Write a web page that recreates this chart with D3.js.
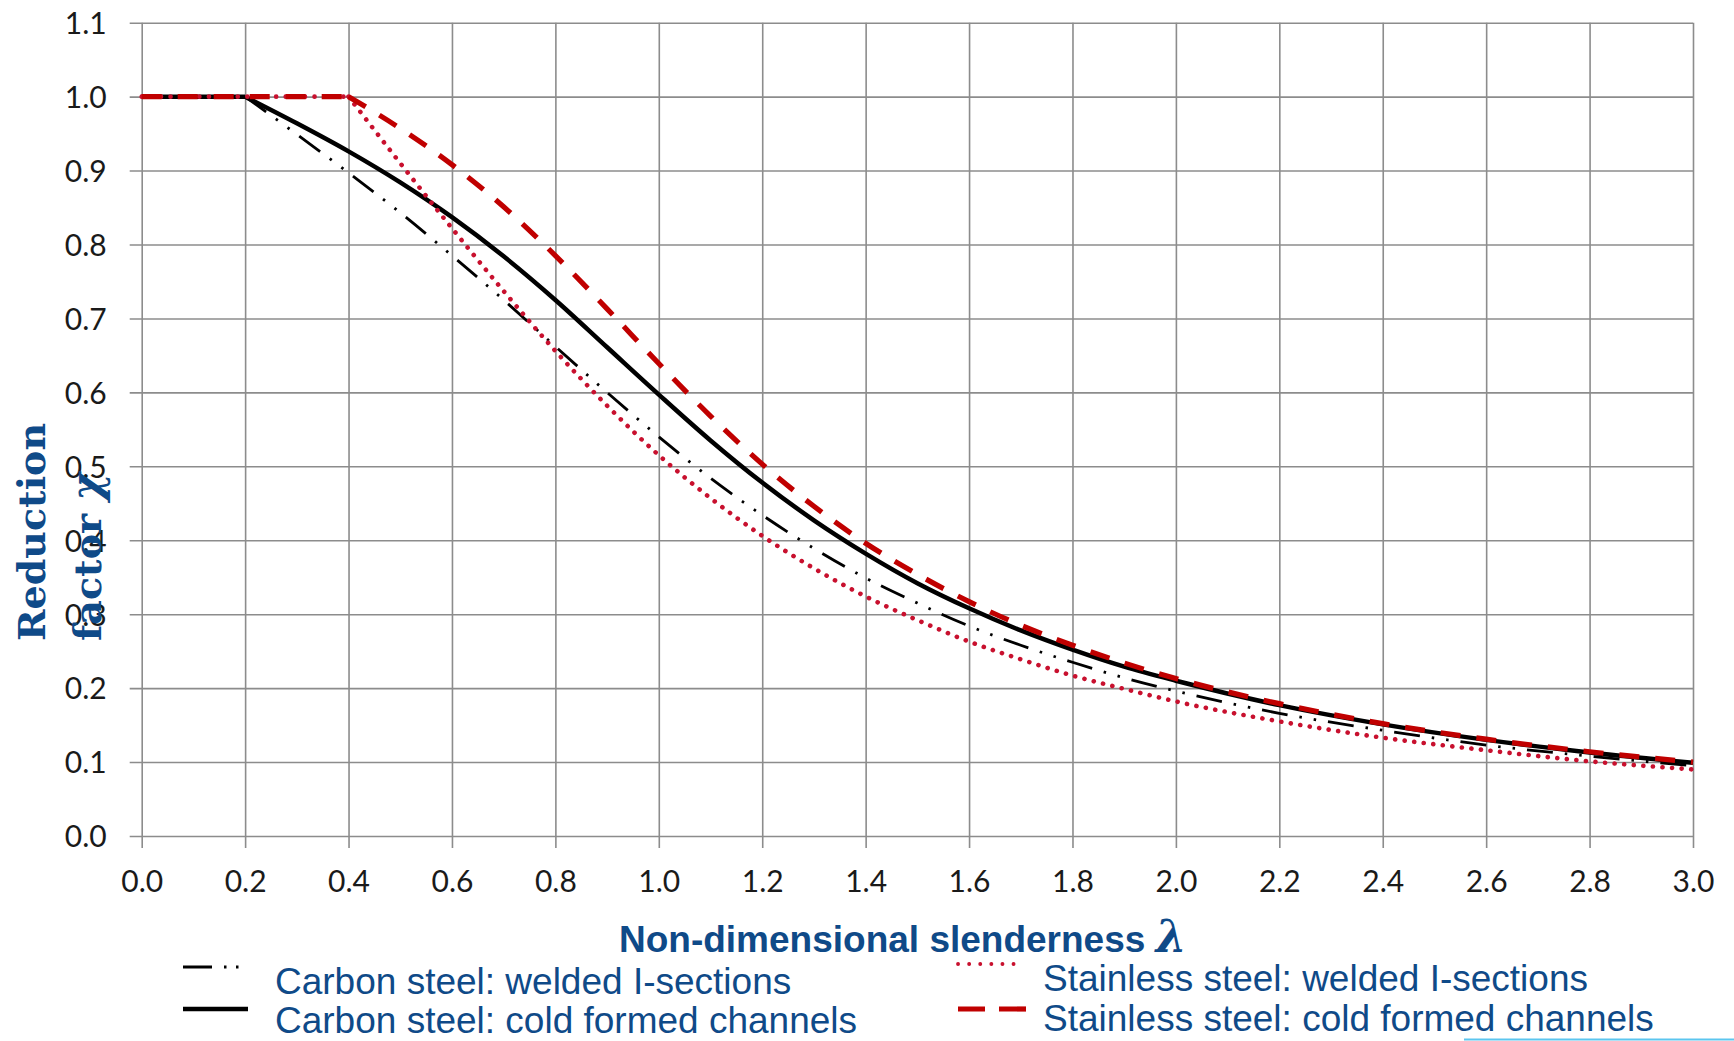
<!DOCTYPE html>
<html>
<head>
<meta charset="utf-8">
<script src="https://d3js.org/d3.v7.min.js"></script>
<style>
    body { margin: 0; background: #fff; }
    svg { display: block; }
</style>
</head>
<body>
<svg width="1734" height="1041"></svg>

<script>
// slenderness values where the curves were read
var lambdaVals = [0, 0.1, 0.2, 0.3, 0.4, 0.5, 0.6, 0.7, 0.8, 0.9, 1.0, 1.1, 1.2, 1.3, 1.4, 1.5,
                  1.6, 1.7, 1.8, 1.9, 2.0, 2.2, 2.4, 2.6, 2.8, 3.0];

// reduction factor chi
var carbonWelded    = [1, 1, 1, 0.949, 0.897, 0.843, 0.785, 0.725, 0.662, 0.600, 0.540, 0.484, 0.434,
                       0.389, 0.349, 0.315, 0.284, 0.258, 0.235, 0.214, 0.196, 0.166, 0.143, 0.123, 0.108, 0.095];
var carbonCold      = [1, 1, 1, 0.964, 0.926, 0.884, 0.837, 0.784, 0.725, 0.661, 0.597, 0.535, 0.478,
                       0.427, 0.382, 0.342, 0.308, 0.278, 0.252, 0.229, 0.210, 0.177, 0.151, 0.130, 0.113, 0.099];
var stainlessWelded = [1, 1, 1, 1, 1, 0.910, 0.822, 0.737, 0.656, 0.582, 0.515, 0.457, 0.406,
                       0.362, 0.324, 0.292, 0.263, 0.239, 0.217, 0.199, 0.182, 0.155, 0.133, 0.116, 0.101, 0.090];
var stainlessCold   = [1, 1, 1, 1, 1, 0.957, 0.908, 0.851, 0.785, 0.713, 0.639, 0.568, 0.503,
                       0.446, 0.396, 0.354, 0.317, 0.285, 0.258, 0.234, 0.213, 0.179, 0.152, 0.131, 0.114, 0.100];

var xTicks = [0, 0.2, 0.4, 0.6, 0.8, 1.0, 1.2, 1.4, 1.6, 1.8, 2.0, 2.2, 2.4, 2.6, 2.8, 3.0];
var yTicks = [0, 0.1, 0.2, 0.3, 0.4, 0.5, 0.6, 0.7, 0.8, 0.9, 1.0, 1.1];

var seriesNames = ["Carbon steel: welded I-sections", "Carbon steel: cold formed channels",
                   "Stainless steel: welded I-sections", "Stainless steel: cold formed channels"];

var navy = "#0f4a88",
    gridColor = "#8c8c8c";

var styles = [
    {color: "#000", width: 2.8, dash: "26,12,2.5,12,2.5,12", cap: "butt", legDash: "29,12,2.5,9.5,2.5,20", legW: 2.8},
    {color: "#000", width: 4.5, dash: null, cap: "butt", legDash: null, legW: 4.5},
    {color: "#c8102e", width: 4.6, dash: "0.1,9.5", cap: "round", legDash: "0.1,11", legW: 3.8},
    {color: "#c00000", width: 5.2, dash: "20,16", cap: "butt", legDash: "27,14", legW: 5.2}
];

var svg = d3.select("svg");
svg.append("rect").attr("width", 1734).attr("height", 1041).attr("fill", "#fff");

var x = d3.scaleLinear().domain([0, 3]).range([141.7, 1693]),
    y = d3.scaleLinear().domain([0, 1.1]).range([836, 22.7]);

var plotW = x(3) - x(0),
    plotH = y(0) - y(1.1);

// x axis with full height grid lines
svg.append("g")
    .attr("transform", "translate(0," + y(0) + ")")
    .call(d3.axisBottom(x).tickValues(xTicks).tickFormat(d3.format(".1f"))
        .tickSize(-plotH).tickSizeOuter(0))
    .call(function (g) { g.select(".domain").remove(); })
    .call(function (g) {
        g.selectAll(".tick line").attr("y1", 12).attr("stroke", gridColor).attr("stroke-width", 1.6);
        g.selectAll(".tick text").attr("y", 45).attr("dy", "0.35em")
            .attr("fill", "#1a1a1a").style("font", "30px Lato, 'Open Sans', sans-serif");
    });

// y axis with full width grid lines
svg.append("g")
    .attr("transform", "translate(" + x(0) + ",0)")
    .call(d3.axisLeft(y).tickValues(yTicks).tickFormat(d3.format(".1f"))
        .tickSize(-plotW).tickSizeOuter(0).tickPadding(35))
    .call(function (g) { g.select(".domain").remove(); })
    .call(function (g) {
        g.selectAll(".tick line").attr("x1", -12).attr("stroke", gridColor).attr("stroke-width", 1.6);
        g.selectAll(".tick text").attr("dy", "0.36em")
            .attr("fill", "#1a1a1a").style("font", "30px Lato, 'Open Sans', sans-serif");
    });

var lineFlat = d3.line().x(function (d) { return x(d[0]); }).y(function (d) { return y(d[1]); }),
    lineCurve = d3.line().curve(d3.curveMonotoneX)
        .x(function (d) { return x(d[0]); }).y(function (d) { return y(d[1]); });

var allSeries = [carbonWelded, carbonCold, stainlessWelded, stainlessCold];

// plateau kept straight, the falling branch smoothed
function curvePath(vals) {
    var pts = lambdaVals.map(function (l, i) { return [l, vals[i]]; });
    var k = vals.lastIndexOf(1);
    return lineFlat(pts.slice(0, k + 1)) + lineCurve(pts.slice(k));
}

svg.append("g").selectAll("path")
    .data(allSeries)
    .enter().append("path")
    .attr("d", curvePath)
    .attr("fill", "none")
    .attr("stroke", function (d, i) { return styles[i].color; })
    .attr("stroke-width", function (d, i) { return styles[i].width; })
    .attr("stroke-dasharray", function (d, i) { return styles[i].dash; })
    .attr("stroke-linecap", function (d, i) { return styles[i].cap; })
    .attr("stroke-linejoin", "round");

// axis titles
svg.append("text")
    .attr("transform", "translate(45,641) rotate(-90)")
    .attr("fill", navy)
    .style("font", "bold 38px 'DejaVu Serif', serif")
    .text("Reduction");
var f = svg.append("text")
    .attr("transform", "translate(101,641) rotate(-90)")
    .attr("fill", navy)
    .style("font", "bold 38px 'DejaVu Serif', serif")
    .text("factor ");
f.append("tspan").attr("font-style", "italic").style("font-size", "42px").text("χ");

var xt = svg.append("text")
    .attr("x", 619).attr("y", 952)
    .attr("fill", navy)
    .style("font", "bold 37px 'Liberation Sans', Arial, sans-serif")
    .text("Non-dimensional slenderness ");
xt.append("tspan")
    .style("font", "italic bold 44px 'DejaVu Serif', serif")
    .text("λ");

// legend
var legPos = [
    {sx: 183, ex: 241, sy: 967, tx: 275, ty: 994},
    {sx: 183, ex: 248, sy: 1009, tx: 275, ty: 1033},
    {sx: 958, ex: 1024, sy: 964, tx: 1043, ty: 991},
    {sx: 958, ex: 1026, sy: 1009, tx: 1043, ty: 1031}
];
var leg = svg.append("g").selectAll("g")
    .data(seriesNames)
    .enter().append("g");
leg.append("line")
    .attr("x1", function (d, i) { return legPos[i].sx; })
    .attr("x2", function (d, i) { return legPos[i].ex; })
    .attr("y1", function (d, i) { return legPos[i].sy; })
    .attr("y2", function (d, i) { return legPos[i].sy; })
    .attr("stroke", function (d, i) { return styles[i].color; })
    .attr("stroke-width", function (d, i) { return styles[i].legW; })
    .attr("stroke-dasharray", function (d, i) { return styles[i].legDash; })
    .attr("stroke-linecap", function (d, i) { return styles[i].cap; });
leg.append("text")
    .attr("x", function (d, i) { return legPos[i].tx; })
    .attr("y", function (d, i) { return legPos[i].ty; })
    .attr("fill", navy)
    .style("font", "37px 'Liberation Sans', Arial, sans-serif")
    .text(function (d) { return d; });

// thin light blue rule at the bottom right
svg.append("line")
    .attr("x1", 1464).attr("x2", 1734).attr("y1", 1039.5).attr("y2", 1039.5)
    .attr("stroke", "#5cc6ef").attr("stroke-width", 2);
</script>
</body>
</html>
